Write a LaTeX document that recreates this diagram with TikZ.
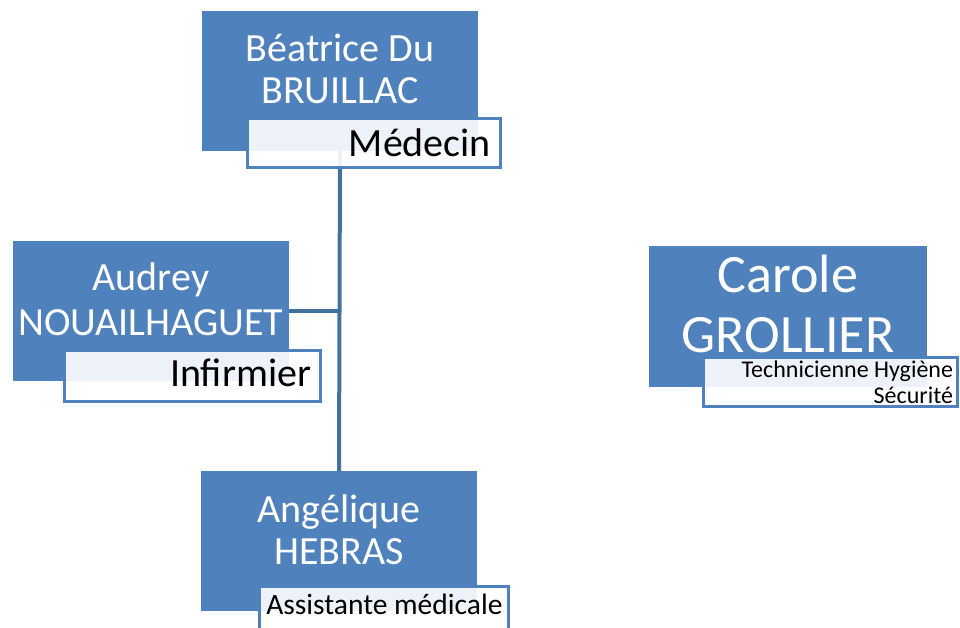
\documentclass[tikz,border=0pt]{standalone}
\usepackage{fontspec}
\setmainfont{Carlito}
\usetikzlibrary{positioning, backgrounds}

\definecolor{boxblue}{HTML}{4F81BD}
\definecolor{linkblue}{HTML}{41719C}

\begin{document}
\begin{tikzpicture}[
    x=1pt, y=-1pt,
    person/.style={rectangle, fill=boxblue, text=white, align=center,
                   minimum width=276pt, minimum height=140pt, inner sep=0pt,
                   font=\fontsize{40}{42}\selectfont},
    role/.style={rectangle, draw=boxblue, line width=3pt, fill=white,
                 fill opacity=0.9, text opacity=1, text=black,
                 text width=#1, align=flush right, inner ysep=0pt, inner xsep=9.5pt,
                 minimum height=49pt, font=\fontsize{40}{42}\selectfont},
    link/.style={draw=linkblue, line width=4pt}
]
\useasboundingbox (0,0) rectangle (960,628);

% Medical team
\node[person, text depth=25pt] (beatrice) at (340,81) {Béatrice Du\\BRUILLAC};
\node[role=234pt, text depth=0pt] (beatrice_role) at (374,143) {Médecin};

\node[person, text depth=23pt, font=\fontsize{40}{45}\selectfont] (audrey)
      at (151,311) {Audrey\\NOUAILHAGUET};
\node[role=237pt, minimum height=51pt, text depth=7pt] (audrey_role)
      at (192.5,376) {Infirmier};

\node[person, text depth=22pt] (angelique) at (339,541) {Angélique\\HEBRAS};
\node[role=237pt, inner xsep=6pt, text depth=14pt,
      font=\fontsize{29.5}{32}\selectfont] (angelique_role) at (384,611)
      {Assistante médicale};

% Safety
\node[person, minimum width=278pt, minimum height=141pt, text depth=25pt,
      font=\fontsize{54}{60}\selectfont] (carole) at (788,316.5) {Carole\\GROLLIER};
\node[role=245pt, inner xsep=4.5pt, font=\fontsize{24}{26}\selectfont]
      (carole_role) at (830.5,382) {Technicienne Hygiène\\Sécurité};

% Links
\begin{scope}[on background layer]
\draw[link] (beatrice.south) -- (angelique.north);
\draw[link] (audrey.east) -- (audrey.east -| beatrice.south);
\end{scope}
\end{tikzpicture}
\end{document}
